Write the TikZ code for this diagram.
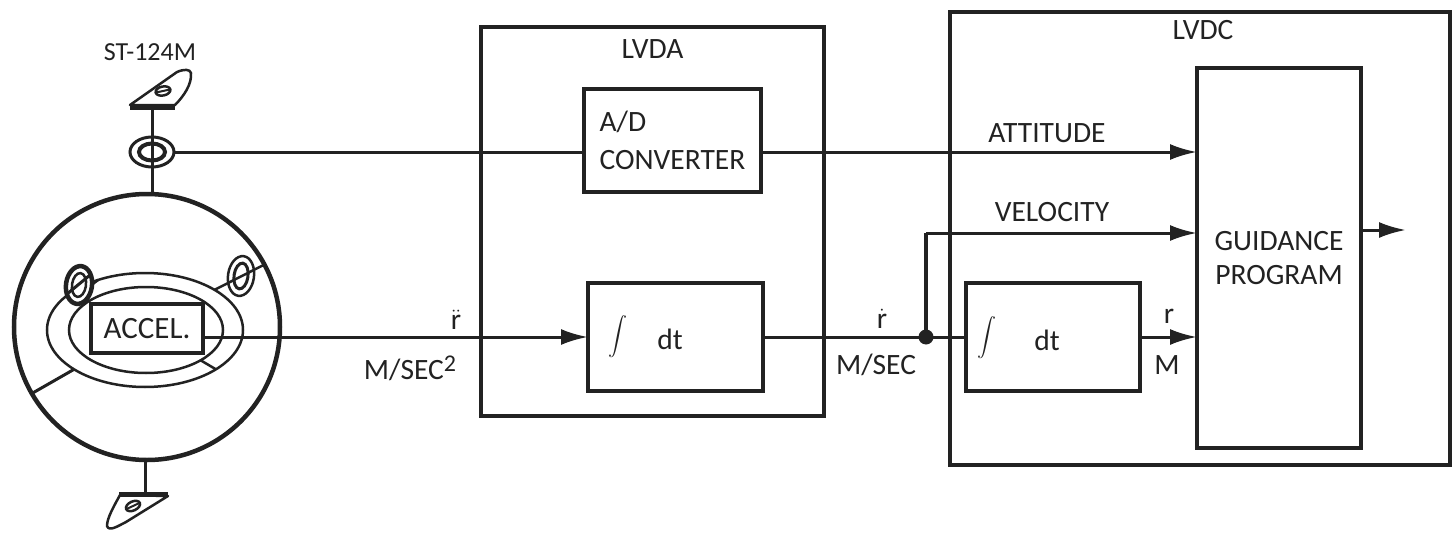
\documentclass[tikz,border=0pt]{standalone}
\usepackage{fontspec}
\setmainfont{Carlito}
\usetikzlibrary{shapes.geometric, arrows.meta, positioning}
\definecolor{minkblk}{HTML}{222222}
\tikzstyle{unit} = [rectangle, draw=minkblk, line width=4.5pt, inner sep=0pt, outer sep=0pt, text=minkblk, font=\fontsize{29.5}{34}\selectfont, align=center]
\tikzstyle{ring} = [ellipse, draw=minkblk, line width=3pt, inner sep=0pt, outer sep=0pt, fill=white]
\tikzstyle{caption} = [inner sep=0pt, outer sep=0pt, text=minkblk, font=\fontsize{29.5}{33}\selectfont, align=center]
\tikzstyle{intsign} = [inner sep=0pt, outer sep=0pt, text=minkblk, scale=1.9]
\tikzstyle{cable} = [draw=minkblk, line width=3pt, -{Latex[length=27pt,width=16pt]}]
\tikzstyle{wire} = [draw=minkblk, line width=3pt]
\tikzstyle{mount} = [draw=minkblk, line width=2.5pt, line join=round]

\begin{document}
\begin{tikzpicture}[x=1pt,y=-1pt]
  \useasboundingbox (0,0) rectangle (1452,535);
  % platform
  \node (sphere) at (147,327) [ring, circle, line width=4.5pt, minimum size=266pt] {};
  \node (outer) at (145,330) [ring, line width=2.5pt, minimum width=196pt, minimum height=114pt] {};
  \node (inner) at (146,330) [ring, line width=2.5pt, minimum width=154pt, minimum height=86pt] {};
  \node (accel) at (147,328.5) [unit, fill=white, minimum width=112pt, minimum height=49pt, font=\fontsize{31}{34}\selectfont] {ACCEL.};
  \node (gimleft) at (79,285) [ring, line width=4.5pt, minimum width=26pt, minimum height=38pt, rotate=-8] {};
  \node (gimleftin) at (79,285) [ring, line width=2.5pt, minimum width=14pt, minimum height=24pt, rotate=-8] {};
  \node (gimright) at (241,276) [ring, line width=2.5pt, minimum width=26pt, minimum height=40pt, rotate=-8] {};
  \node (gimrightin) at (241,276) [ring, minimum width=14pt, minimum height=26pt, rotate=-8] {};
  \node (gimtop) at (152,152) [ring, minimum width=44pt, minimum height=30pt] {};
  \node (gimtopin) at (152,152) [ring, line width=4pt, minimum width=26pt, minimum height=17pt] {};
  % top and bottom mounts
  \coordinate (mounttop) at (152,108);
  \coordinate (mountbot) at (145,493);
  \draw [mount, fill=white] (130,105) -- (177,72) .. controls (184,69) and (190,69) .. (191,73) .. controls (192,84) and (184,96) .. (175,105) -- cycle;
  \draw [draw=minkblk, line width=5pt] (130,107) -- (175,107);
  \node (bolttop) at (163,91) [ring, line width=2.5pt, minimum width=15pt, minimum height=9pt, rotate=12] {};
  \draw [wire, line width=2pt] (bolttop.west) -- (bolttop.east);
  \draw [mount, fill=white] (120,495) .. controls (114,506) and (107,518) .. (107,526) .. controls (109,532) and (118,526) .. (126,522) -- (168,496) -- cycle;
  \draw [draw=minkblk, line width=5pt] (119,494) -- (168,494);
  \node (boltbot) at (133,506) [ring, line width=2.5pt, minimum width=15pt, minimum height=9pt, rotate=25] {};
  \draw [wire, line width=2pt] (boltbot.west) -- (boltbot.east);
  % gimbal links
  \draw [wire] (mounttop) -- (gimtop.north);
  \draw [wire] (gimtop.south) -- (sphere.north -| gimtop.south);
  \draw [wire] (gimtop.north) -- (gimtop.south);
  \draw [wire] (mountbot) -- (sphere.south -| mountbot);
  \draw [wire, line width=2.5pt] (sphere.28) -- (outer.30);
  \draw [wire] (sphere.210) -- (outer.209);
  \draw [wire, line width=2.5pt] (inner.-29) -- (outer.-29);
  \draw [wire] (gimleft.225) -- (gimleft.50);
  \draw [wire, line width=2.5pt] (gimleft.10) -- (outer.133);
  % lvda and lvdc
  \node (lvda) at (652.5,221.5) [unit, minimum width=343pt, minimum height=389pt] {};
  \node (lvdc) at (1200,238.5) [unit, minimum width=500pt, minimum height=453pt] {};
  \node (adconv) at (672.5,140.5) [unit, align=left, minimum width=177pt, minimum height=103pt, font=\fontsize{29.5}{38}\selectfont] {A/D\\CONVERTER};
  \node (intone) at (675.5,337) [unit, minimum width=175pt, minimum height=108pt] {};
  \node (inttwo) [unit, right=203pt of intone, minimum width=174pt, minimum height=108pt] {};
  \node (guidance) at (1279,258) [unit, minimum width=164pt, minimum height=380pt] {GUIDANCE\\PROGRAM};
  \coordinate (guidout) at (1406,230);
  \node (junction) at (926,337) [circle, fill=minkblk, minimum size=15pt, inner sep=0pt] {};
  \coordinate (velcorner) at (926,233);
  % captions
  \node (stlabel) at (150,52) [caption, font=\fontsize{26}{30}\selectfont] {ST-124M};
  \node (lvdalabel) [caption, below=13pt of lvda.north] {LVDA};
  \node (lvdclabel) at (1203,30) [caption] {LVDC};
  \node (attlabel) at (1047,133) [caption] {ATTITUDE};
  \node (vellabel) at (1052,212) [caption] {VELOCITY};
  \node (rddot) at (456,320) [caption] {$\ddot{\mathrm{r}}$};
  \node (accunit) at (410,368) [caption] {M/SEC\raisebox{8pt}{\fontsize{24}{24}\selectfont 2}};
  \node (rdot) at (882,319) [caption] {$\dot{\mathrm{r}}$};
  \node (velunit) at (876,365) [caption] {M/SEC};
  \node (rpos) at (1169,316) [caption] {r};
  \node (posunit) at (1167,365) [caption] {M};
  \node (intsignone) at (618,337) [intsign] {$\displaystyle\int$};
  \node (dtone) at (670,339) [caption] {dt};
  \node (intsigntwo) at (987,338) [intsign] {$\displaystyle\int$};
  \node (dttwo) at (1047,340) [caption] {dt};
  % signal lines
  \draw [wire] (gimtop.east) -- (gimtop.east -| adconv.west);
  \draw [cable] (adconv.east |- gimtop.east) -- (guidance.west |- gimtop.east);
  \draw [cable] (accel.east |- intone.west) -- (intone.west);
  \draw [wire] (intone.east) -- (inttwo.west);
  \draw [wire, line width=4.5pt] (junction.center) -- (velcorner);
  \draw [cable] (velcorner) -- (guidance.west |- velcorner);
  \draw [cable] (inttwo.east) -- (guidance.west |- inttwo.east);
  \draw [cable] (guidance.east |- guidout) -- (guidout);
\end{tikzpicture}
\end{document}
